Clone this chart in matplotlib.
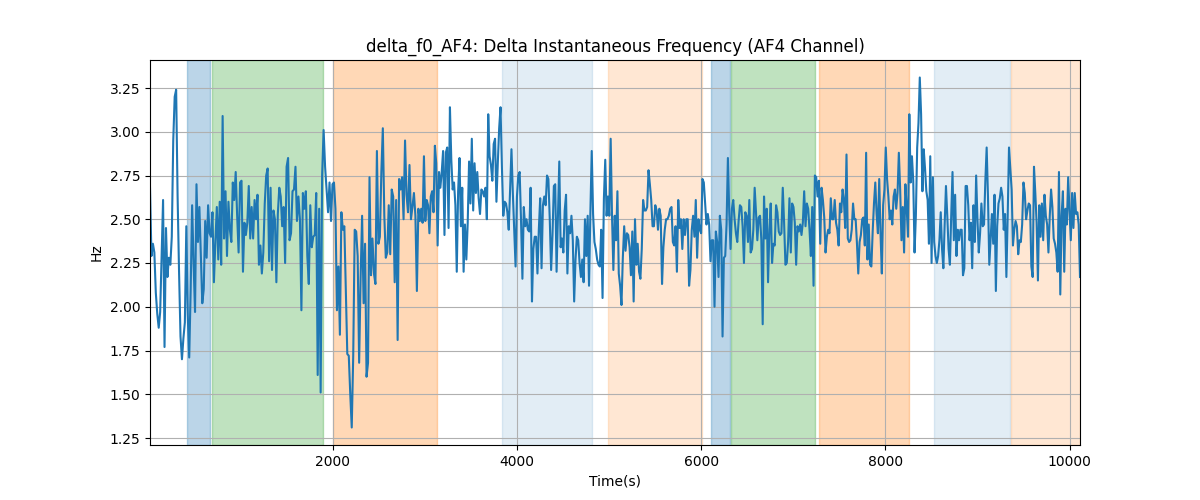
import numpy as np
import matplotlib.pyplot as plt

# delta f0 readings, AF4 channel (Hz), in time order, split in chunks for readability
seg1 = [2.68, 2.29, 2.36, 2.31, 2.08, 1.96, 1.88, 1.97, 2.30, 2.61, 1.77, 2.45, 2.17, 2.28, 2.24, 2.40,
        2.95, 3.20, 3.24, 2.63, 2.20, 1.83, 1.70, 1.82, 1.91, 2.46, 1.95, 1.71, 2.10, 2.58, 2.25, 1.97,
        2.70, 2.37, 2.57, 2.29, 2.02, 2.10, 2.49, 2.28, 2.58, 2.42, 2.40, 2.54, 2.14, 2.37, 2.57, 2.27,
        2.60, 2.24, 3.09, 2.39, 2.66, 2.29, 2.60, 2.44, 2.37, 2.71, 2.61, 2.77, 2.52, 2.31, 2.71, 2.72,
        2.20, 2.48, 2.41, 2.48, 2.69, 2.39, 2.57, 2.39, 2.61, 2.50, 2.64, 2.24, 2.35, 2.19, 2.31, 2.59,
        2.75, 2.79, 2.26, 2.68, 2.21, 2.55, 2.50, 2.14, 2.53, 2.68, 2.63, 2.46]
seg2 = [2.57, 2.25, 2.80, 2.85, 2.38, 2.42, 2.66, 2.67, 2.80, 2.49, 2.63, 2.50, 1.98, 2.65, 2.56, 2.66,
        2.29, 2.13, 2.58, 2.34, 2.40, 2.41, 2.65, 1.61, 2.56, 1.51, 2.75, 3.01, 2.80, 2.67, 2.54, 2.71,
        2.49, 2.70, 2.71, 2.56, 1.98, 2.23, 1.84, 2.54, 2.44, 2.46, 2.10, 1.73, 1.72, 1.50, 1.31, 1.72,
        2.44, 2.43, 2.29, 1.68, 2.17, 2.52, 2.02, 2.36, 1.60, 1.68, 2.74, 2.18, 2.39, 2.19, 2.13, 2.89,
        2.36, 2.40, 2.77, 3.02, 2.52, 2.28, 2.31, 2.58, 2.30, 2.67, 2.63, 2.14, 2.61, 1.81, 2.73, 2.67,
        2.74, 2.50, 2.95, 2.64, 2.54, 2.81, 2.50, 2.57, 2.65, 2.52, 2.09, 2.56]
seg3 = [2.49, 2.56, 2.48, 2.86, 2.49, 2.61, 2.58, 2.42, 2.63, 2.66, 2.54, 2.92, 2.82, 2.35, 2.77, 2.68,
        2.77, 2.89, 2.41, 2.88, 2.91, 2.45, 3.14, 2.84, 2.67, 2.71, 2.58, 2.20, 2.66, 2.85, 2.46, 2.68,
        2.20, 2.47, 2.27, 2.48, 2.83, 2.59, 2.96, 2.55, 2.82, 2.65, 2.77, 2.62, 2.53, 2.67, 2.66, 2.63,
        2.68, 2.50, 3.10, 2.86, 2.81, 2.72, 2.93, 2.96, 2.60, 2.82, 3.02, 3.14, 2.80, 2.52, 2.60, 2.59,
        2.54, 2.44, 2.67, 2.90, 2.65, 2.44, 2.23, 2.63, 2.75, 2.77, 2.49, 2.16, 2.57, 2.46, 2.50, 2.44,
        2.43, 2.68, 2.03, 2.33, 2.40, 2.40, 2.19, 2.44, 2.62, 2.22, 2.58, 2.63, 2.58, 2.75, 2.73, 2.50,
        2.21, 2.41, 2.69]
seg4 = [2.70, 2.20, 2.51, 2.83, 2.34, 2.39, 2.31, 2.55, 2.64, 2.19, 2.46, 2.42, 2.52, 2.38, 2.03, 2.27,
        2.40, 2.38, 2.25, 2.17, 2.27, 2.14, 2.50, 2.29, 2.52, 2.12, 2.54, 2.89, 2.53, 2.37, 2.33, 2.27,
        2.24, 2.23, 2.44, 2.05, 2.62, 2.84, 2.52, 2.63, 2.52, 2.96, 2.52, 2.21, 2.52, 2.38, 2.66, 2.19,
        2.12, 2.01, 2.28, 2.46, 2.32, 2.42, 2.41, 2.34, 2.18, 2.43, 2.03, 2.50, 2.24, 2.36, 2.20, 2.16,
        2.33, 2.61, 2.55, 2.55, 2.57, 2.78, 2.70, 2.61, 2.46, 2.46, 2.58, 2.55, 2.44, 2.56, 2.52, 2.13,
        2.34, 2.44, 2.50, 2.50, 2.52, 2.56, 2.57, 2.37, 2.35, 2.46, 2.20, 2.61, 2.45, 2.50, 2.33, 2.50,
        2.41, 2.50, 2.50, 2.12]
seg5 = [2.21, 2.44, 2.52, 2.40, 2.61, 2.28, 2.50, 2.44, 2.42, 2.73, 2.71, 2.59, 2.47, 2.53, 2.47, 2.26,
        2.38, 2.38, 2.00, 2.43, 2.37, 2.17, 2.52, 2.44, 1.83, 2.28, 2.29, 2.47, 2.85, 2.54, 2.33, 2.56,
        2.61, 2.50, 2.42, 2.37, 2.49, 2.58, 2.57, 2.46, 2.25, 2.54, 2.52, 2.37, 2.61, 2.31, 2.33, 2.44,
        2.68, 2.54, 2.38, 2.51, 2.52, 2.38, 1.90, 2.63, 2.39, 2.56, 2.14, 2.44, 2.59, 2.25, 2.36, 2.35,
        2.58, 2.54, 2.43, 2.41, 2.42, 2.68, 2.48, 2.24, 2.25, 2.37, 2.62, 2.31, 2.59, 2.57, 2.48, 2.24,
        2.46, 2.43, 2.47, 2.41, 2.48, 2.66, 2.46, 2.59, 2.56, 2.44, 2.29, 2.57, 2.12, 2.75, 2.74, 2.63,
        2.72, 2.36, 2.68, 2.61]
seg6 = [2.51, 2.31, 2.40, 2.44, 2.42, 2.62, 2.50, 2.50, 2.61, 2.48, 2.44, 2.35, 2.59, 2.54, 2.67, 2.61,
        2.45, 2.87, 2.39, 2.37, 2.38, 2.44, 2.59, 2.50, 2.50, 2.36, 2.19, 2.37, 2.41, 2.50, 2.51, 2.35,
        2.88, 2.27, 2.47, 2.24, 2.23, 2.43, 2.59, 2.71, 2.53, 2.42, 2.73, 2.42, 2.19, 2.58, 2.67, 2.91,
        2.73, 2.63, 2.50, 2.55, 2.47, 2.63, 2.67, 2.56, 2.65, 2.88, 2.67, 2.38, 2.57, 2.31, 2.70, 2.56,
        2.40, 3.10, 2.71, 2.86, 2.72, 2.31, 2.52, 2.91, 3.05, 3.31, 3.10, 2.66, 2.90, 2.79, 2.66, 2.61,
        2.36, 2.86, 2.25, 2.74, 2.37, 2.29, 2.25, 2.29, 2.38, 2.54, 2.33, 2.22, 2.47, 2.69, 2.52, 2.33,
        2.24, 2.52, 2.77, 2.38, 2.64, 2.29, 2.44, 2.38]
seg7 = [2.44, 2.44, 2.18, 2.22, 2.69, 2.69, 2.58, 2.38, 2.48, 2.22, 2.58, 2.37, 2.75, 2.50, 2.31, 2.42,
        2.59, 2.46, 2.47, 2.72, 2.91, 2.63, 2.24, 2.38, 2.53, 2.36, 2.64, 2.09, 2.46, 2.59, 2.62, 2.68,
        2.63, 2.44, 2.53, 2.17, 2.52, 2.91, 2.79, 2.67, 2.35, 2.44, 2.49, 2.46, 2.30, 2.38, 2.37, 2.47,
        2.71, 2.65, 2.50, 2.55, 2.59, 2.58, 2.23, 2.17, 2.80, 2.65, 2.48, 2.15, 2.58, 2.40, 2.59, 2.38,
        2.64, 2.52, 2.47, 2.31, 2.52, 2.67, 2.57, 2.39, 2.36, 2.31, 2.20, 2.77, 2.07, 2.52, 2.66, 2.20,
        2.56, 2.47, 2.74, 2.55, 2.38, 2.65, 2.45, 2.65, 2.53, 2.54, 2.47, 2.17]

segments = [seg1, seg2, seg3, seg4, seg5, seg6, seg7]
# time (s) at which each chunk begins, last entry is the end of the recording
seg_times = [16, 1467, 2946, 4416, 5884, 7337, 8815, 10114]

# shaded intervals (start, end) and their colours
span_starts = [413, 685, 2004, 3837, 4989, 6109, 6326, 7283, 8525, 9366]
span_ends = [671, 1899, 3127, 4812, 6008, 6312, 7236, 8258, 9351, 10114]
span_colors = ['tab:blue', 'tab:green', 'tab:orange', 'tab:blue', 'tab:orange',
               'tab:blue', 'tab:green', 'tab:orange', 'tab:blue', 'tab:orange']
span_alphas = [0.3, 0.3, 0.3, 0.13, 0.18, 0.3, 0.3, 0.3, 0.13, 0.18]

# evenly spaced samples inside each chunk
time = []
for i, seg in enumerate(segments):
    last = i == len(segments) - 1
    time.extend(np.linspace(seg_times[i], seg_times[i + 1], len(seg), endpoint=last))
time = np.array(time)
delta_f0 = np.concatenate(segments)

fig, ax = plt.subplots(figsize=(12, 5))

for s, e, c, a in zip(span_starts, span_ends, span_colors, span_alphas):
    ax.axvspan(s, e, color=c, alpha=a)

ax.plot(time, delta_f0, color='tab:blue')

ax.set_xlim(time[0], time[-1])
ax.set_title('delta_f0_AF4: Delta Instantaneous Frequency (AF4 Channel)')
ax.set_xlabel('Time(s)')
ax.set_ylabel('Hz')
ax.grid(True)

plt.savefig('out.png', dpi=100)
